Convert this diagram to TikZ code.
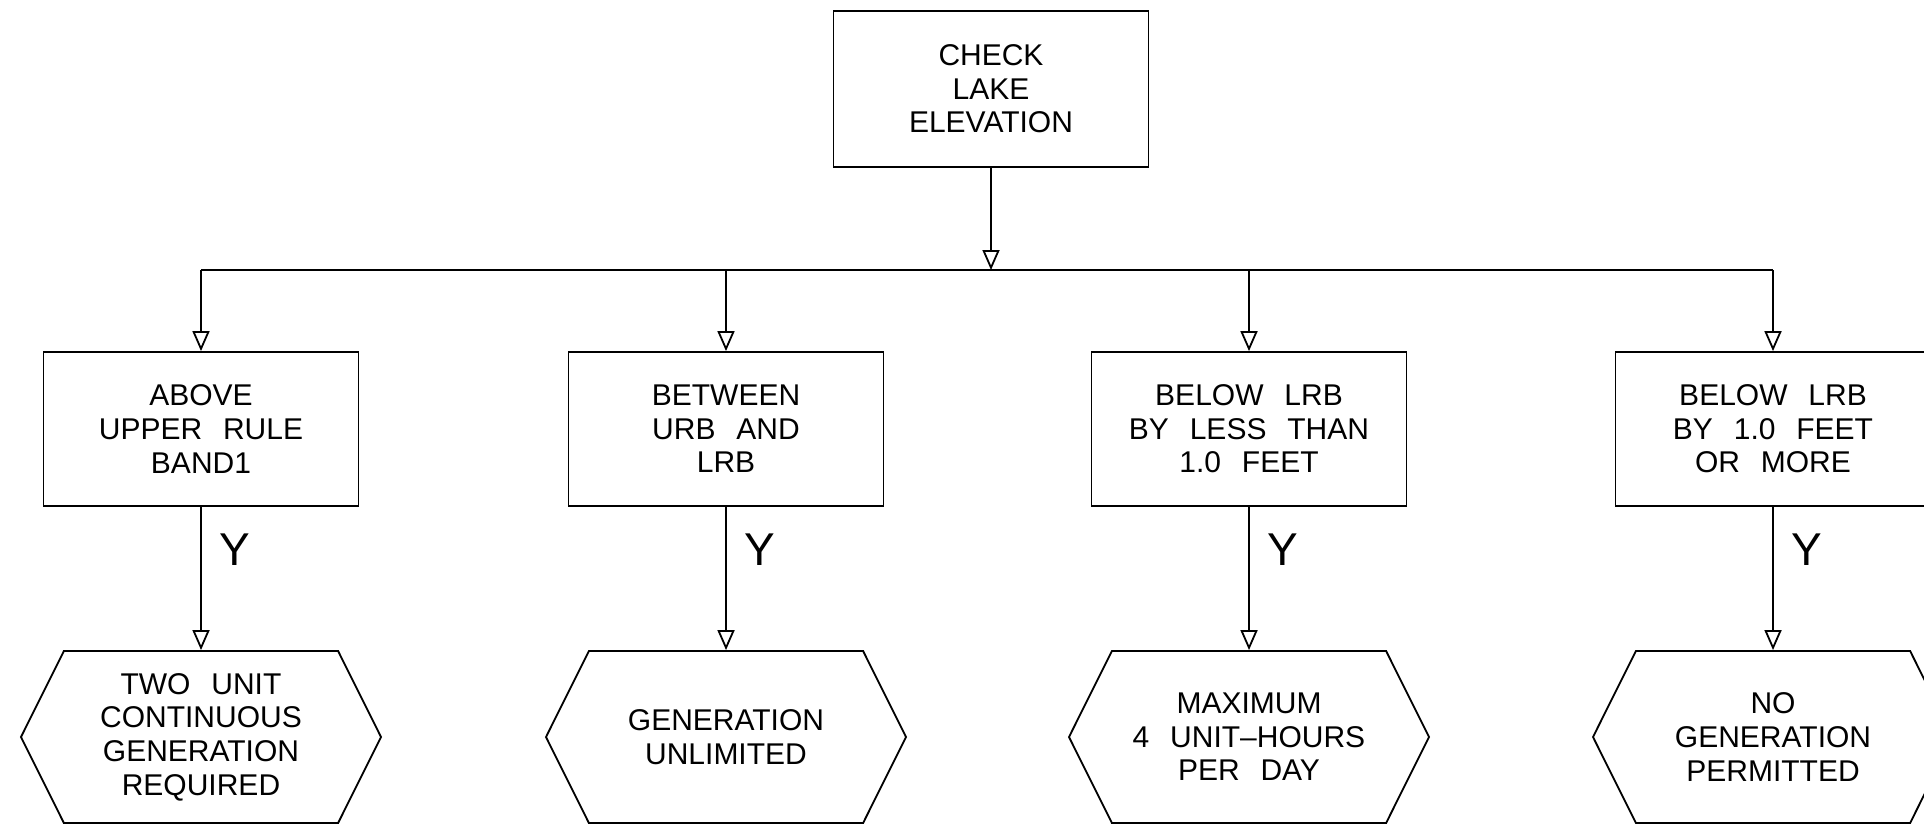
\documentclass[tikz,border=0pt]{standalone}
\usepackage{fontspec}
\setmainfont{Liberation Sans}[WordSpace=2.5]
\usetikzlibrary{arrows.meta,shapes.symbols}
\begin{document}
\begin{tikzpicture}[x=0.5pt, y=-0.5pt, line width=0.9pt,
  every node/.style={inner sep=1pt, align=center, font=\fontsize{15}{16.8}\selectfont},
  test/.style={draw, minimum width=157.5pt, minimum height=77pt},
  result/.style={draw, signal, signal to=west and east, signal pointer angle=127,
    minimum width=180pt, minimum height=86pt},
  flow/.style={-{Triangle[open, length=10pt, width=8.5pt]}},
  yes/.style={inner sep=0pt, font=\fontsize{23}{23}\selectfont}]
  \useasboundingbox (0,0) rectangle (1924,825);
  \node[test, minimum height=78pt] (check) at (991,89) {CHECK\\LAKE\\ELEVATION};
  \coordinate (bus) at (991,270);
  \node[test] (above) at (201,429) {ABOVE\\UPPER RULE\\BAND1};
  \node[test] (between) at (726,429) {BETWEEN\\URB AND\\LRB};
  \node[test] (less) at (1249,429) {BELOW LRB\\BY LESS THAN\\1.0 FEET};
  \node[test] (more) at (1773,429) {BELOW LRB\\BY 1.0 FEET\\OR MORE};
  \node[result] (two) at (201,737) {TWO UNIT\\CONTINUOUS\\GENERATION\\REQUIRED};
  \node[result] (unlimited) at (726,737) {GENERATION\\UNLIMITED};
  \node[result] (maximum) at (1249,737) {MAXIMUM\\4 UNIT--HOURS\\PER DAY};
  \node[result] (none) at (1773,737) {NO\\GENERATION\\PERMITTED};
  \draw[flow] (check) -- (bus);
  \draw (above |- bus) -- (more |- bus);
  \foreach \b in {above,between,less,more}
    \draw[flow] (\b |- bus) -- (\b);
  \draw[flow] (above) -- node[yes, pos=0.3, right=9pt] {Y} (two);
  \draw[flow] (between) -- node[yes, pos=0.3, right=9pt] {Y} (unlimited);
  \draw[flow] (less) -- node[yes, pos=0.3, right=9pt] {Y} (maximum);
  \draw[flow] (more) -- node[yes, pos=0.3, right=9pt] {Y} (none);
\end{tikzpicture}
\end{document}
